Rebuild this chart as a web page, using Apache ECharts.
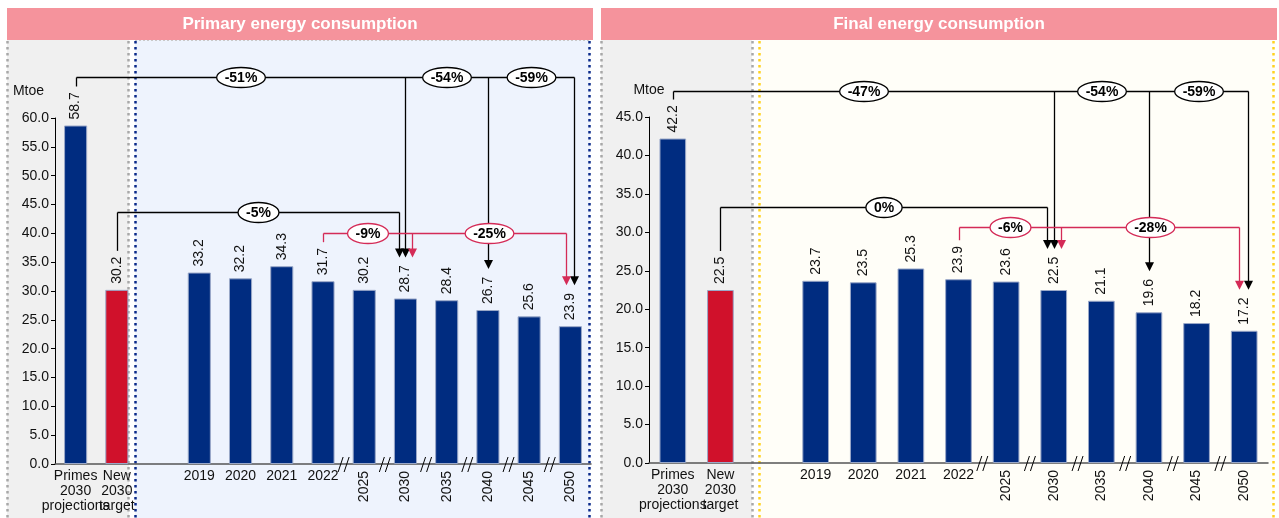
<!DOCTYPE html>
<html><head><meta charset="utf-8">
<script src="https://cdn.jsdelivr.net/npm/echarts@6/dist/echarts.min.js"></script>
<style>html,body{margin:0;padding:0;background:#fff}#c{width:1279px;height:518px}</style>
</head><body><div id="c"></div>
<script>
// ---------------- DATA ----------------
const categories = ['Primes\n2030\nprojections', 'New\n2030\ntarget', '', '2019', '2020', '2021', '2022', '2025', '2030', '2035', '2040', '2045', '2050'];
const rotatedLabels = ['2025', '2030', '2035', '2040', '2045', '2050'];
const primaryValues = [58.7, 30.2, null, 33.2, 32.2, 34.3, 31.7, 30.2, 28.7, 28.4, 26.7, 25.6, 23.9];
const finalValues = [42.2, 22.5, null, 23.7, 23.5, 25.3, 23.9, 23.6, 22.5, 21.1, 19.6, 18.2, 17.2];
const primaryYTicks = { min: 0, max: 60, interval: 5 };
const finalYTicks = { min: 0, max: 45, interval: 5 };
const primaryChangeVs2030Primes = ['-51%', '-54%', '-59%'];
const primaryChangeVsTarget = ['-5%'];
const primaryChangeVs2022 = ['-9%', '-25%'];
const finalChangeVs2030Primes = ['-47%', '-54%', '-59%'];
const finalChangeVsTarget = ['0%'];
const finalChangeVs2022 = ['-6%', '-28%'];
const titles = ['Primary energy consumption', 'Final energy consumption'];
const unitName = 'Mtoe';

// ---------------- STYLE ----------------
const FONT = '"Liberation Sans", Arial, sans-serif';
const NAVY = '#002C80';
const RED_BAR = '#D0112B';
const RED_LINE = '#D42B57';
const BLACK = '#000000';
const breakAfter = [6, 7, 8, 9, 10, 11];

function textWidth(s) {
  let w = 0;
  for (const ch of s) {
    if (ch === '-') w += 4.7; else if (ch === '%') w += 12.4; else w += 7.8;
  }
  return w;
}

function bracketDefs(topLabels, targetLabels, recentLabels, levels) {
  return [
    { from: 0, to: [8, 10, 12], offs: [0, 0, 0.09], labels: topLabels, level: levels[0], color: BLACK },
    { from: 1, to: [8], offs: [-0.15], labels: targetLabels, level: levels[1], color: BLACK },
    { from: 6, to: [8, 12], offs: [0.15, -0.1], labels: recentLabels, level: levels[2], color: RED_LINE }
  ];
}

function makeRenderer(values, defs) {
  return function (params, api) {
    const band = api.size([1, 0])[0];
    const lines = [], marks = [];
    const axisY = api.coord([0, 0])[1];
    breakAfter.forEach(i => {
      const x = (api.coord([i, 0])[0] + api.coord([i + 1, 0])[0]) / 2;
      [-3, 3].forEach(d => lines.push({ type: 'line', shape: { x1: x + d - 2.5, y1: axisY + 8, x2: x + d + 2.5, y2: axisY - 7 }, style: { stroke: '#000', lineWidth: 1 } }));
    });
    defs.forEach(def => {
      const y = Math.round(api.coord([0, def.level])[1]) + 0.5;
      const sx = Math.round(api.coord([def.from, 0])[0]) + 0.5;
      const sBottom = api.coord([def.from, values[def.from]])[1] - 39;
      const pts = [sx];
      lines.push({ type: 'line', shape: { x1: sx, y1: y, x2: sx, y2: sBottom }, style: { stroke: def.color, lineWidth: 1.3 } });
      def.to.forEach((t, k) => {
        const tx = Math.round(api.coord([t, 0])[0] + def.offs[k] * band) + 0.5;
        const tip = api.coord([t, values[t]])[1] - 41;
        pts.push(tx);
        lines.push({ type: 'line', shape: { x1: tx, y1: y, x2: tx, y2: tip - 8 }, style: { stroke: def.color, lineWidth: 1.3 } });
        lines.push({ type: 'polygon', shape: { points: [[tx - 4.5, tip - 9], [tx + 4.5, tip - 9], [tx, tip]] }, style: { fill: def.color } });
      });
      lines.push({ type: 'line', shape: { x1: sx, y1: y, x2: pts[pts.length - 1], y2: y }, style: { stroke: def.color, lineWidth: 1.3 } });
      def.labels.forEach((lab, k) => {
        const cx = (pts[k] + pts[k + 1]) / 2;
        const rx = textWidth(lab) / 2 + 8;
        marks.push({ type: 'ellipse', shape: { cx: cx, cy: y, rx: rx, ry: 10 }, style: { fill: '#fff', stroke: def.color, lineWidth: 1.3 } });
        marks.push({ type: 'text', x: cx, y: y + 0.5, style: { text: lab, font: 'bold 14px ' + FONT, fill: '#000', align: 'center', verticalAlign: 'middle' } });
      });
    });
    return { type: 'group', children: lines.concat(marks) };
  };
}

function barData(values) {
  return values.map((v, i) => ({ value: v, itemStyle: { color: i === 1 ? RED_BAR : NAVY } }));
}

function xAxes(gridIndex) {
  return [
    {
      gridIndex, type: 'category', data: categories, position: 'bottom',
      axisLine: { lineStyle: { color: '#555', width: 1.5 } }, axisTick: { show: false },
      axisLabel: { interval: 0, margin: 5, fontSize: 14, lineHeight: 15, color: '#111', fontFamily: FONT,
        formatter: v => rotatedLabels.includes(v) ? '' : v }
    },
    {
      gridIndex, type: 'category', data: categories, position: 'bottom', offset: 0,
      axisLine: { show: false }, axisTick: { show: false }, splitLine: { show: false },
      axisLabel: { interval: 0, rotate: 90, margin: 7, fontSize: 14, color: '#111', fontFamily: FONT,
        formatter: v => rotatedLabels.includes(v) ? v : '' }
    }
  ];
}

function yAxis(gridIndex, ticks, nameStyle) {
  return {
    gridIndex, type: 'value', min: ticks.min, max: ticks.max, interval: ticks.interval,
    name: unitName, nameLocation: 'end', nameGap: 20, nameTextStyle: Object.assign({ fontSize: 14, color: '#111', fontFamily: FONT }, nameStyle),
    axisLine: { show: true, lineStyle: { color: '#000', width: 1 } },
    axisTick: { show: true, length: 4, lineStyle: { color: '#000' } },
    splitLine: { show: false },
    axisLabel: { margin: 6, fontSize: 14, color: '#111', fontFamily: FONT, formatter: v => v.toFixed(1) }
  };
}

function barSeries(values, axisIdx) {
  return {
    type: 'bar', xAxisIndex: axisIdx, yAxisIndex: axisIdx / 2, data: barData(values), barWidth: '56%',
    itemStyle: { borderColor: '#9AA8C8', borderWidth: 1 },
    label: { show: true, position: 'top', rotate: 90, align: 'left', verticalAlign: 'middle', distance: 6,
      fontSize: 14, color: '#111', fontFamily: FONT, formatter: p => p.value == null ? '' : p.value.toFixed(1) },
    z: 3
  };
}

function bg(x, y, w, h, fill) {
  return { type: 'rect', z: -10, silent: true, shape: { x, y, width: w, height: h }, style: { fill } };
}
function dots(x, y1, y2, color) {
  return { type: 'line', z: -5, silent: true, shape: { x1: x, y1, x2: x, y2 }, style: { stroke: color, lineWidth: 2.5, lineDash: [2.5, 3.5] } };
}
function hdots(y, x1, x2, color) {
  return { type: 'line', z: -5, silent: true, shape: { x1, y1: y, x2, y2: y }, style: { stroke: color, lineWidth: 1, lineDash: [2, 2] } };
}
function header(x, w, text) {
  return [
    { type: 'rect', z: -10, silent: true, shape: { x, y: 8, width: w, height: 32 }, style: { fill: '#F5939C' } },
    { type: 'text', z: -9, silent: true, x: x + w / 2, y: 24, style: { text, fill: '#fff', font: 'bold 17px ' + FONT, align: 'center', verticalAlign: 'middle' } }
  ];
}

const primaryBrackets = bracketDefs(primaryChangeVs2030Primes, primaryChangeVsTarget, primaryChangeVs2022, [67.1, 43.7, 40.1]);
const finalBrackets = bracketDefs(finalChangeVs2030Primes, finalChangeVsTarget, finalChangeVs2022, [48.4, 33.3, 30.7]);

const option = {
  backgroundColor: '#ffffff',
  animation: false,
  textStyle: { fontFamily: FONT },
  graphic: { elements: [
    ...header(7, 586, titles[0]),
    ...header(601, 676, titles[1]),
    bg(7, 40, 122, 478, '#F0F0F0'),
    bg(135, 40, 455, 478, '#EEF3FD'),
    bg(601, 40, 151, 478, '#F0F0F0'),
    bg(759, 40, 515, 478, '#FFFEF8'),
    hdots(40.5, 135, 590, '#C8C8C8'),
    dots(7.5, 41, 518, '#A8A8A8'),
    dots(128.5, 41, 518, '#A8A8A8'),
    dots(135.5, 41, 518, '#0A2A8A'),
    dots(589.5, 41, 518, '#0A2A8A'),
    dots(601.5, 41, 518, '#A8A8A8'),
    dots(752.5, 41, 518, '#A8A8A8'),
    dots(759.5, 41, 518, '#FFD21F'),
    dots(1273.5, 41, 518, '#FFD21F')
  ] },
  grid: [
    { left: 55, width: 536, top: 118, height: 346 },
    { left: 649, width: 619, top: 117, height: 346 }
  ],
  xAxis: [...xAxes(0), ...xAxes(1)],
  yAxis: [
    yAxis(0, primaryYTicks, { align: 'right', padding: [0, 11, 0, 0] }),
    yAxis(1, finalYTicks, { align: 'center' })
  ],
  series: [
    barSeries(primaryValues, 0),
    barSeries(finalValues, 2),
    { type: 'custom', xAxisIndex: 0, yAxisIndex: 0, data: [[0, 0]], clip: false, silent: true, z: 5,
      renderItem: makeRenderer(primaryValues, primaryBrackets) },
    { type: 'custom', xAxisIndex: 2, yAxisIndex: 1, data: [[0, 0]], clip: false, silent: true, z: 5,
      renderItem: makeRenderer(finalValues, finalBrackets) }
  ]
};

const chart = echarts.init(document.getElementById('c'), null, { renderer: 'canvas' });
chart.setOption(option);
</script>
</body></html>
